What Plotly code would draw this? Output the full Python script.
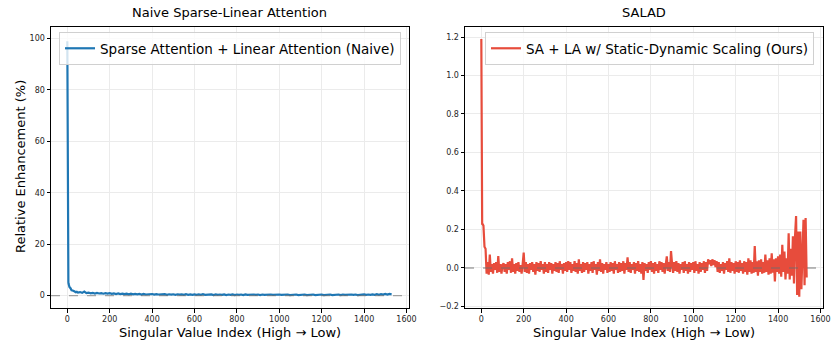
import plotly.graph_objects as go

# ---------------- data ----------------
blue_idx = [0, 1, 2, 3, 4, 5, 6, 7, 8, 9, 10, 15, 20, 25, 30, 35, 40, 45, 50] + list(range(60, 1531, 10))
blue_vals = [
    99.0, 42.0, 16.0, 9.0, 6.5, 5.2, 4.6, 4.2, 3.9, 3.6, 3.4,
    2.9, 2.1, 2.0, 1.6, 1.6, 1.3, 1.5, 1.2,
    1.4, 1.1, 1.6, 1.0, 1.2,
    0.9, 1.1, 0.8, 1.05, 0.85, 1.0, 0.75, 0.95, 0.8, 0.95,
    0.7, 0.9, 0.65, 0.85, 0.6, 0.8, 0.6, 0.75, 0.55, 0.75,
    0.5, 0.7, 0.5, 0.65, 0.45, 0.7, 0.45, 0.6, 0.45, 0.65,
    0.4, 0.6, 0.45, 0.55, 0.4, 0.6, 0.35, 0.55, 0.4, 0.55,
    0.35, 0.55, 0.4, 0.5, 0.3, 0.55, 0.35, 0.5, 0.3, 0.5,
    0.35, 0.5, 0.3, 0.55, 0.3, 0.45, 0.35, 0.5, 0.25, 0.5,
    0.3, 0.45, 0.3, 0.5, 0.25, 0.45, 0.3, 0.5, 0.25, 0.45,
    0.3, 0.45, 0.25, 0.5, 0.3, 0.4, 0.25, 0.45, 0.3, 0.45,
    0.25, 0.45, 0.3, 0.4, 0.25, 0.45, 0.3, 0.4, 0.25, 0.45,
    0.3, 0.4, 0.25, 0.45, 0.25, 0.4, 0.3, 0.45, 0.25, 0.4,
    0.3, 0.45, 0.25, 0.4, 0.3, 0.45, 0.25, 0.4, 0.3, 0.45,
    0.25, 0.4, 0.3, 0.45, 0.25, 0.4, 0.3, 0.45, 0.25, 0.45,
    0.3, 0.4, 0.25, 0.45, 0.3, 0.45, 0.25, 0.4, 0.3, 0.5,
    0.3, 0.45, 0.3, 0.5, 0.35, 0.55, 0.3, 0.6, 0.4, 0.65,
    0.4, 0.7, 0.5,
]

red_idx = [0, 1, 2, 3, 4] + list(range(5, 1536, 5))
red_vals = [
    1.19, 0.36, 0.30, 0.24, 0.23,
    0.23, 0.22, 0.11, 0.10, -0.03, 0.03, -0.035, 0.07, -0.02, 0.02, -0.03, 0.025, -0.01, 0.03, -0.025, 0.062, -0.02, 0.02, -0.03, 0.015,
    0.025, -0.02, 0.02, -0.03, 0.03, -0.01, 0.035, -0.025, 0.05, -0.02, 0.02, -0.03, 0.025, -0.015, 0.03, -0.02, 0.015, -0.03, 0.02, 0.08,
    -0.02, 0.03, -0.025, 0.02, -0.03, 0.025, -0.01, 0.03, -0.02, 0.02, -0.035, 0.03, -0.015, 0.025, -0.02, 0.035, -0.01, 0.02, -0.03, 0.03,
    -0.02, 0.02, -0.025, 0.03, -0.01, 0.025, -0.03, 0.02, -0.015, 0.03, -0.02, 0.025, -0.025, 0.035, -0.01, 0.02, -0.03, 0.025, -0.015, 0.03,
    -0.02, 0.035, -0.01, 0.03, -0.025, 0.02, -0.015, 0.035, -0.02, 0.025, -0.03, 0.045, -0.015, 0.02, -0.025, 0.03, -0.02, 0.025, -0.01, 0.03,
    -0.03, 0.02, -0.015, 0.03, -0.025, 0.035, -0.01, 0.02, -0.035, 0.03, -0.015, 0.045, -0.02, 0.025, -0.03, 0.02, -0.01, 0.03, -0.025, 0.02,
    -0.02, 0.03, -0.015, 0.025, -0.03, 0.035, -0.01, 0.02, -0.025, 0.03, -0.02, 0.025, -0.015, 0.035, -0.03, 0.025, -0.01, 0.055, -0.02, 0.03,
    -0.025, 0.02, -0.01, 0.03, -0.03, 0.025, -0.015, 0.035, -0.02, 0.02, -0.03, 0.03, -0.062, 0.025, -0.015, 0.02, -0.025, 0.03, -0.01, 0.035,
    -0.02, 0.025, -0.03, 0.03, -0.015, 0.02, -0.025, 0.035, -0.01, 0.03, -0.02, 0.025, -0.03, 0.035, 0.06, -0.015, 0.03, -0.02, 0.088, 0.02,
    -0.025, 0.03, -0.015, 0.035, -0.02, 0.025, -0.03, 0.02, -0.01, 0.03, -0.025, 0.035, -0.015, 0.02, -0.03, 0.03, -0.02, 0.025, -0.01, 0.03,
    -0.025, 0.035, -0.015, 0.02, -0.03, 0.03, -0.02, 0.025, -0.01, 0.035, -0.025, 0.03, -0.015, 0.045, 0.02, 0.04, 0.01, 0.045, 0.015, 0.04,
    0.005, 0.035, -0.02, 0.03, -0.025, 0.02, -0.015, 0.03, -0.03, 0.025, -0.01, 0.035, -0.02, 0.05, -0.025, 0.03, -0.015, 0.025, -0.03, 0.035,
    -0.02, 0.03, -0.025, 0.04, -0.015, 0.025, -0.03, 0.035, -0.02, 0.03, -0.035, 0.05, -0.02, 0.04, -0.03, 0.03, -0.025, 0.114, -0.02, 0.035,
    -0.04, 0.04, -0.02, 0.045, -0.03, 0.03, -0.025, 0.07, -0.02, 0.04, -0.035, 0.05, -0.03, 0.076, -0.025, 0.045, -0.07, 0.05, -0.02, 0.06,
    -0.03, 0.07, -0.045, 0.12, -0.02, 0.085, -0.06, 0.05, -0.03, 0.18, -0.06, 0.1, -0.04, 0.165, -0.08, 0.165, 0.27, -0.14, 0.19, -0.15,
    0.19, -0.11, 0.16, 0.25, -0.09, 0.26, -0.05,
]

left_title = "Naive Sparse-Linear Attention"
right_title = "SALAD"
blue_name = "Sparse Attention + Linear Attention (Naive)"
red_name = "SA + LA w/ Static-Dynamic Scaling (Ours)"
x_title = "Singular Value Index (High → Low)"
y_title = "Relative Enhancement (%)"
x_ticks = [0, 200, 400, 600, 800, 1000, 1200, 1400, 1600]
left_y_ticks = [0, 20, 40, 60, 80, 100]
right_y_ticks = [-0.2, 0.0, 0.2, 0.4, 0.6, 0.8, 1.0, 1.2]

# ---------------- figure ----------------
W, H = 831, 343
FONT = "DejaVu Sans"
BLUE = "#1f77b4"
RED = "#e74c3c"

fig = go.Figure()
fig.add_trace(go.Scatter(x=blue_idx, y=blue_vals, mode="lines", name=blue_name,
                         line=dict(color=BLUE, width=2.2), xaxis="x", yaxis="y", legend="legend"))
fig.add_trace(go.Scatter(x=red_idx, y=red_vals, mode="lines", name=red_name,
                         line=dict(color=RED, width=2.2), xaxis="x2", yaxis="y2", legend="legend2"))

def px_x(p):
    return p / W

def px_y(p):
    return 1 - p / H

axis_common = dict(
    showline=True, linecolor="black", linewidth=1, mirror=True,
    ticks="outside", ticklen=3.5, tickwidth=0.8, tickcolor="black",
    showgrid=True, gridcolor="#ebebeb", gridwidth=0.8, zeroline=False,
    tickfont=dict(family=FONT, size=8, color="#262626"), automargin=False,
)

ydom = [px_y(308), px_y(27)]
title_font = dict(family=FONT, size=13, color="black")
fig.update_layout(
    width=W, height=H,
    margin=dict(l=0, r=0, t=0, b=0),
    paper_bgcolor="white", plot_bgcolor="white",
    font=dict(family=FONT, color="black"),
    xaxis=dict(domain=[px_x(51), px_x(409)], range=[-77, 1612], tickvals=x_ticks,
               anchor="y", **axis_common),
    yaxis=dict(domain=ydom, range=[-4.8, 104.5], tickvals=left_y_ticks,
               anchor="x", **axis_common),
    xaxis2=dict(domain=[px_x(465), px_x(823)], range=[-77, 1612], tickvals=x_ticks,
                anchor="y2", **axis_common),
    yaxis2=dict(domain=ydom, range=[-0.208, 1.252], tickvals=right_y_ticks, tickformat=".1f",
                anchor="x2", **axis_common),
    legend=dict(x=px_x(59), y=px_y(32), xanchor="left", yanchor="top",
                bgcolor="rgba(255,255,255,0.8)", bordercolor="#d0d0d0", borderwidth=1,
                font=dict(family=FONT, size=13.5, color="black"), tracegroupgap=0,
                itemwidth=30),
    legend2=dict(x=px_x(485), y=px_y(32), xanchor="left", yanchor="top",
                 bgcolor="rgba(255,255,255,0.8)", bordercolor="#d0d0d0", borderwidth=1,
                 font=dict(family=FONT, size=13.5, color="black"), tracegroupgap=0,
                 itemwidth=30),
    showlegend=True,
    annotations=[
        dict(text=left_title, x=px_x(230), y=px_y(12.5), xref="paper", yref="paper",
             showarrow=False, xanchor="center", yanchor="middle", font=title_font),
        dict(text=right_title, x=px_x(644), y=px_y(12.5), xref="paper", yref="paper",
             showarrow=False, xanchor="center", yanchor="middle", font=title_font),
        dict(text=x_title, x=px_x(230), y=px_y(332), xref="paper", yref="paper",
             showarrow=False, xanchor="center", yanchor="middle", font=title_font),
        dict(text=x_title, x=px_x(644), y=px_y(332), xref="paper", yref="paper",
             showarrow=False, xanchor="center", yanchor="middle", font=title_font),
        dict(text=y_title, x=px_x(20), y=px_y(167), xref="paper", yref="paper",
             showarrow=False, xanchor="center", yanchor="middle", textangle=-90, font=title_font),
    ],
    shapes=[
        dict(type="line", xref="x domain", yref="y", x0=0, x1=1, y0=0, y1=0,
             line=dict(color="rgba(110,110,110,0.6)", width=1.4, dash="dash"), layer="above"),
        dict(type="line", xref="x2 domain", yref="y2", x0=0, x1=1, y0=0, y1=0,
             line=dict(color="rgba(110,110,110,0.6)", width=1.4, dash="dash"), layer="above"),
    ],
)

fig.write_html("out.html", config={"displayModeBar": False},
               post_script="document.body.style.margin='0';document.body.style.padding='0';")
